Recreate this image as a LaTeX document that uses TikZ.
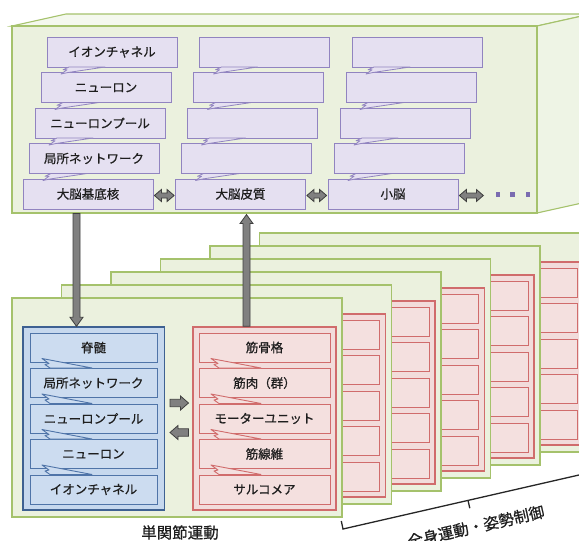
\documentclass[tikz,border=0pt]{standalone}
\usepackage{fontspec}
\newfontfamily\jp[FakeBold=0.7]{Noto Sans CJK JP}
\usetikzlibrary{calc}
\definecolor{gfill}{HTML}{EBF1DE}
\definecolor{gtop}{HTML}{F4F8EE}
\definecolor{gside}{HTML}{EEF4E5}
\definecolor{gline}{HTML}{A5C26C}
\definecolor{lfill}{HTML}{E5E0F1}
\definecolor{lline}{HTML}{9184C0}
\definecolor{bfill}{HTML}{C6D8EE}
\definecolor{bitem}{HTML}{CCDCF0}
\definecolor{bline}{HTML}{3E6192}
\definecolor{biline}{HTML}{4F74A8}
\definecolor{rfill}{HTML}{F2DCDB}
\definecolor{rline}{HTML}{D06C6C}
\definecolor{ritem}{HTML}{F4E0DF}
\definecolor{arrfill}{HTML}{808080}
\definecolor{arrline}{HTML}{3F3F3F}
\definecolor{txt}{HTML}{1E1E1E}
\definecolor{dotc}{HTML}{7A6CB0}
\tikzset{
  layer/.style={draw=gline, fill=gfill, line width=1.2pt},
  lbox/.style={draw=lline, fill=lfill, line width=0.8pt, minimum width=130pt, minimum height=30pt, inner sep=0pt, font=\jp\fontsize{12.5}{14}\selectfont, text=txt},
  ltail/.style={draw=lline, fill=lfill, line width=0.8pt, line join=round},
  bboxst/.style={draw=bline, fill=bfill, line width=1.4pt, inner sep=0pt},
  bitembox/.style={draw=biline, fill=bitem, line width=0.9pt, minimum width=127pt, minimum height=29pt, inner sep=0pt, font=\jp\fontsize{12.5}{14}\selectfont, text=txt},
  btail/.style={draw=biline, fill=bitem, line width=0.9pt, line join=round},
  rboxst/.style={draw=rline, fill=rfill, line width=1.4pt, inner sep=0pt},
  ritembox/.style={draw=rline, fill=ritem, line width=0.9pt, minimum width=131pt, minimum height=29pt, inner sep=0pt, font=\jp\fontsize{12.5}{14}\selectfont, text=txt},
  rtail/.style={draw=rline, fill=ritem, line width=0.9pt, line join=round},
  blk/.style={draw=arrline, fill=arrfill, line width=0.8pt, line join=miter},
  dotsq/.style={fill=dotc, minimum size=4.5pt, inner sep=0pt},
}
\begin{document}
\begin{tikzpicture}[x=1pt,y=-1pt]
\useasboundingbox (0,0) rectangle (579,541);
\clip (0,0) rectangle (579,541);

% ---------- top 3D box ----------
\filldraw[draw=gline, fill=gtop, line width=1.1pt] (12,26) -- (66,14) -- (591,14) -- (537,26) -- cycle;
\filldraw[draw=gline, fill=gside, line width=1.1pt] (537,26) -- (591,14) -- (591,201) -- (537,213) -- cycle;
\node[draw=gline, fill=gfill, line width=1.1pt, minimum width=525pt, minimum height=187pt, inner sep=0pt] (brain) at (274.5,119.5) {};

\node[lbox] (c0r0) at (112,52) {イオンチャネル};
\node[lbox] (c0r1) at (106,87.5) {ニューロン};
\node[lbox] (c0r2) at (100,123) {ニューロンプール};
\node[lbox] (c0r3) at (94,158.5) {局所ネットワーク};
\node[lbox] (c0r4) at (88,194) {大脳基底核};
\foreach \r in {0,1,2,3} {
  \node[lbox] (c1r\r) at (264.5-6*\r,52+35.5*\r) {};
  \node[lbox] (c2r\r) at (417-6*\r,52+35.5*\r) {};
}
\node[lbox] (c1r4) at (240.5,194) {大脳皮質};
\node[lbox] (c2r4) at (393,194) {小脳};

\foreach \c in {0,1,2} \foreach \r in {0,1,2,3} {
  \pgfmathsetmacro\xu{47-6*\r+152.5*\c}
  \pgfmathsetmacro\yb{67+35.5*\r}
  \filldraw[ltail] (\xu+22,\yb) -- (\xu+16,\yb+2.8) -- (\xu+20,\yb+2.8) -- (\xu+14,\yb+7) -- (\xu+21,\yb+5.5) -- (\xu+58,\yb) -- cycle;
}

% double arrows between brain parts
\coordinate (a0) at ($(c0r4.east)+(1,1.5)$);
\coordinate (a1) at ($(c1r4.west)+(-1,1.5)$);
\coordinate (a2) at ($(c1r4.east)+(1,1.5)$);
\coordinate (a3) at ($(c2r4.west)+(-1,1.5)$);
\coordinate (a4) at ($(c2r4.east)+(1,1.5)$);
\coordinate (a5) at ($(c2r4.east)+(25,1.5)$);
\foreach \p/\q in {a0/a1,a2/a3,a4/a5} {
  \filldraw[blk] (\p) -- ++(7,-6) -- ++(0,3.5) -- ($(\q)+(-7,-2.5)$) -- ++(0,-3.5) -- (\q) -- ++(-7,6) -- ++(0,-3.5) -- ($(\p)+(7,2.5)$) -- ++(0,3.5) -- cycle;
}
\node[dotsq] (dt1) at (498,194.5) {};
\node[dotsq] (dt2) at (512.5,194.5) {};
\node[dotsq] (dt3) at (528,194.5) {};

% ---------- stacked layers (back to front) ----------
\foreach \k in {5,4,3,2,1} {
  \filldraw[layer] (12+49.5*\k, 298-13*\k) rectangle (342+49.5*\k, 517-13*\k);
  \filldraw[rboxst] (193+49.5*\k, 327-13*\k) rectangle (336+49.5*\k, 510-13*\k);
  \foreach \r in {0,...,4}
    \filldraw[draw=rline, fill=ritem, line width=0.9pt] (199+49.5*\k, 333+35.5*\r-13*\k) rectangle ++(131,29);
}

% front layer
\node[layer, minimum width=330pt, minimum height=219pt, inner sep=0pt] (front) at (177,407.5) {};
\node[bboxst, minimum width=141.5pt, minimum height=183pt] (blue) at (93.75,418.5) {};
\node[rboxst, minimum width=143pt, minimum height=183pt] (red) at (264.5,418.5) {};

\foreach \r/\t in {0/脊髄,1/局所ネットワーク,2/ニューロンプール,3/ニューロン,4/イオンチャネル}
  \node[bitembox] (b\r) at (93.5,347.5+35.5*\r) {\t};
\foreach \r/\t in {0/筋骨格,1/筋肉（群）,2/モーターユニット,3/筋線維,4/サルコメア}
  \node[ritembox] (m\r) at (264.5,347.5+35.5*\r) {\t};

\foreach \r in {0,1,2,3} {
  \pgfmathsetmacro\yb{362+35.5*\r}
  \filldraw[btail] (42,\yb-3.5) -- (49,\yb+1.5) -- (45,\yb+2.5) -- (50,\yb+6) -- (92,\yb+6) -- cycle;
  \filldraw[rtail] (211,\yb-3.5) -- (218,\yb+1.5) -- (214,\yb+2.5) -- (219,\yb+6) -- (261,\yb+6) -- cycle;
}

% block arrows between blue and red
\coordinate (rr0) at (170,403);
\coordinate (rr1) at (188.5,403);
\coordinate (ll0) at (188.5,432.5);
\coordinate (ll1) at (170,432.5);
\filldraw[blk] ($(rr0)+(0,-3.7)$) -- ($(rr1)+(-8,-3.7)$) -- ($(rr1)+(-8,-7)$) -- (rr1) -- ($(rr1)+(-8,7)$) -- ($(rr1)+(-8,3.7)$) -- ($(rr0)+(0,3.7)$) -- cycle;
\filldraw[blk] ($(ll0)+(0,-3.7)$) -- ($(ll1)+(8,-3.7)$) -- ($(ll1)+(8,-7)$) -- (ll1) -- ($(ll1)+(8,7)$) -- ($(ll1)+(8,3.7)$) -- ($(ll0)+(0,3.7)$) -- cycle;

% vertical arrows
\coordinate (dx) at (76.5,0);
\coordinate (d0) at (dx |- brain.south);
\coordinate (d1) at (dx |- blue.north);
\filldraw[blk] ($(d0)+(-3.5,0)$) -- ($(d1)+(-3.5,-9)$) -- ($(d1)+(-6.5,-9)$) -- (d1) -- ($(d1)+(6.5,-9)$) -- ($(d1)+(3.5,-9)$) -- ($(d0)+(3.5,0)$) -- cycle;
\coordinate (ux) at (246.5,0);
\coordinate (u0) at (ux |- red.north);
\coordinate (u1) at ($(ux |- brain.south)+(0,1)$);
\filldraw[blk] ($(u0)+(-3.5,0)$) -- ($(u1)+(-3.5,9)$) -- ($(u1)+(-6.5,9)$) -- (u1) -- ($(u1)+(6.5,9)$) -- ($(u1)+(3.5,9)$) -- ($(u0)+(3.5,0)$) -- cycle;

% labels
\node[font=\jp\fontsize{15.5}{17}\selectfont, text=txt] (single) at (180,532.5) {単関節運動};
\coordinate (br0) at (341.3,521);
\coordinate (br1) at (343,529);
\coordinate (br2) at (579,475);
\coordinate (bm0) at (468,500.4);
\coordinate (bm1) at (469.8,508.2);
\draw[line width=1.3pt, black!85] (br0) -- (br1) -- (br2);
\draw[line width=1.3pt, black!85] (bm0) -- (bm1);
\node[font=\jp\fontsize{15.5}{17}\selectfont, text=txt, rotate=12.7] (whole) at (476,526.5) {全身運動・姿勢制御};
\end{tikzpicture}
\end{document}
